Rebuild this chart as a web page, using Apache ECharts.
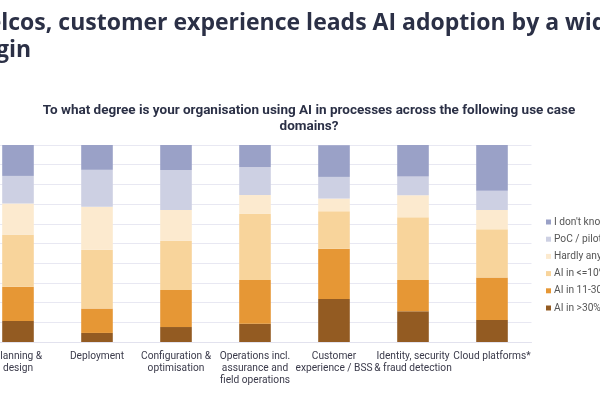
<!DOCTYPE html>
<html>
<head>
<meta charset="utf-8">
<script src="https://cdn.jsdelivr.net/npm/echarts@6/dist/echarts.min.js"></script>
<style>
  html, body { margin: 0; padding: 0; background: #fff; }
  #chart { width: 600px; height: 400px; }
</style>
</head>
<body>
<div id="chart"></div>
<script>
// use case domains
var categories = [
  'Planning &\ndesign',
  'Deployment',
  'Configuration &\noptimisation',
  'Operations incl.\nassurance and\nfield operations',
  'Customer\nexperience / BSS',
  'Identity, security\n& fraud detection',
  'Cloud platforms*'
];

// share of respondents, %
var aiOver30 = [10.7, 4.6, 7.6, 9.3, 21.8, 15.6, 11.2];
var ai11to30 = [17.3, 12.4, 18.8, 22.2, 25.5, 15.9, 21.5];
var aiUpTo10 = [26.4, 29.8, 24.9, 33.5, 19.1, 31.8, 24.5];
var hardlyAny = [15.9, 21.8, 15.7, 9.6, 6.4, 11.2, 9.8];
var pocPilot = [14.0, 18.8, 20.3, 14.2, 11.0, 9.5, 9.8];
var dontKnow = [15.7, 12.7, 12.7, 11.2, 16.1, 16.1, 23.2];

var seriesNames = [
  'AI in >30% of processes',
  'AI in 11-30% of processes',
  'AI in <=10% of processes',
  'Hardly any AI',
  'PoC / pilot only',
  "I don't know"
];
var seriesData = [aiOver30, ai11to30, aiUpTo10, hardlyAny, pocPilot, dontKnow];
var colors = ['#935B22', '#E69735', '#F8D49B', '#FCEACF', '#CDD0E3', '#9AA1C7'];

var chart = echarts.init(document.getElementById('chart'));

var series = [];
for (var i = 0; i < seriesNames.length; i++) {
  series.push({
    name: seriesNames[i],
    type: 'bar',
    stack: 'total',
    barWidth: '40%',
    data: seriesData[i],
    itemStyle: { color: colors[i] }
  });
}

var option = {
  animation: false,
  graphic: [
    {
      type: 'text',
      x: -51,
      y: 10,
      style: {
        text: 'In telcos, customer experience leads AI adoption by a wide\nmargin',
        font: 'bold 23px "Open Sans"',
        lineHeight: 27,
        fill: '#2B3046'
      }
    }
  ],
  title: {
    text: 'To what degree is your organisation using AI in processes across the following use case\ndomains?',
    left: 304,
    top: 98,
    textAlign: 'center',
    textStyle: {
      fontFamily: 'Roboto',
      fontWeight: 'bold',
      fontSize: 13.5,
      lineHeight: 16,
      color: '#2B3046'
    }
  },
  legend: {
    orient: 'vertical',
    left: 541,
    top: 211,
    icon: 'rect',
    itemWidth: 5,
    itemHeight: 5,
    itemGap: 5.2,
    data: seriesNames.slice().reverse(),
    textStyle: {
      fontFamily: 'Roboto',
      fontSize: 10.2,
      lineHeight: 12,
      padding: [0, 0, 0, -2],
      color: '#555'
    }
  },
  grid: {
    left: -21.5,
    right: 68.5,
    top: 145,
    bottom: 58,
    outerBoundsMode: 'none'
  },
  xAxis: {
    type: 'category',
    data: categories,
    axisTick: { show: false },
    axisLine: { lineStyle: { color: '#E2E2EE' } },
    axisLabel: {
      interval: 0,
      margin: 8,
      fontFamily: 'Roboto',
      fontSize: 10.2,
      lineHeight: 12,
      color: '#3A3A4A'
    }
  },
  yAxis: {
    type: 'value',
    min: 0,
    max: 100,
    interval: 10,
    axisLabel: { show: false },
    axisLine: { show: false },
    axisTick: { show: false },
    splitLine: { lineStyle: { color: '#E8E8F2' } }
  },
  series: series
};

chart.setOption(option);
</script>
</body>
</html>
